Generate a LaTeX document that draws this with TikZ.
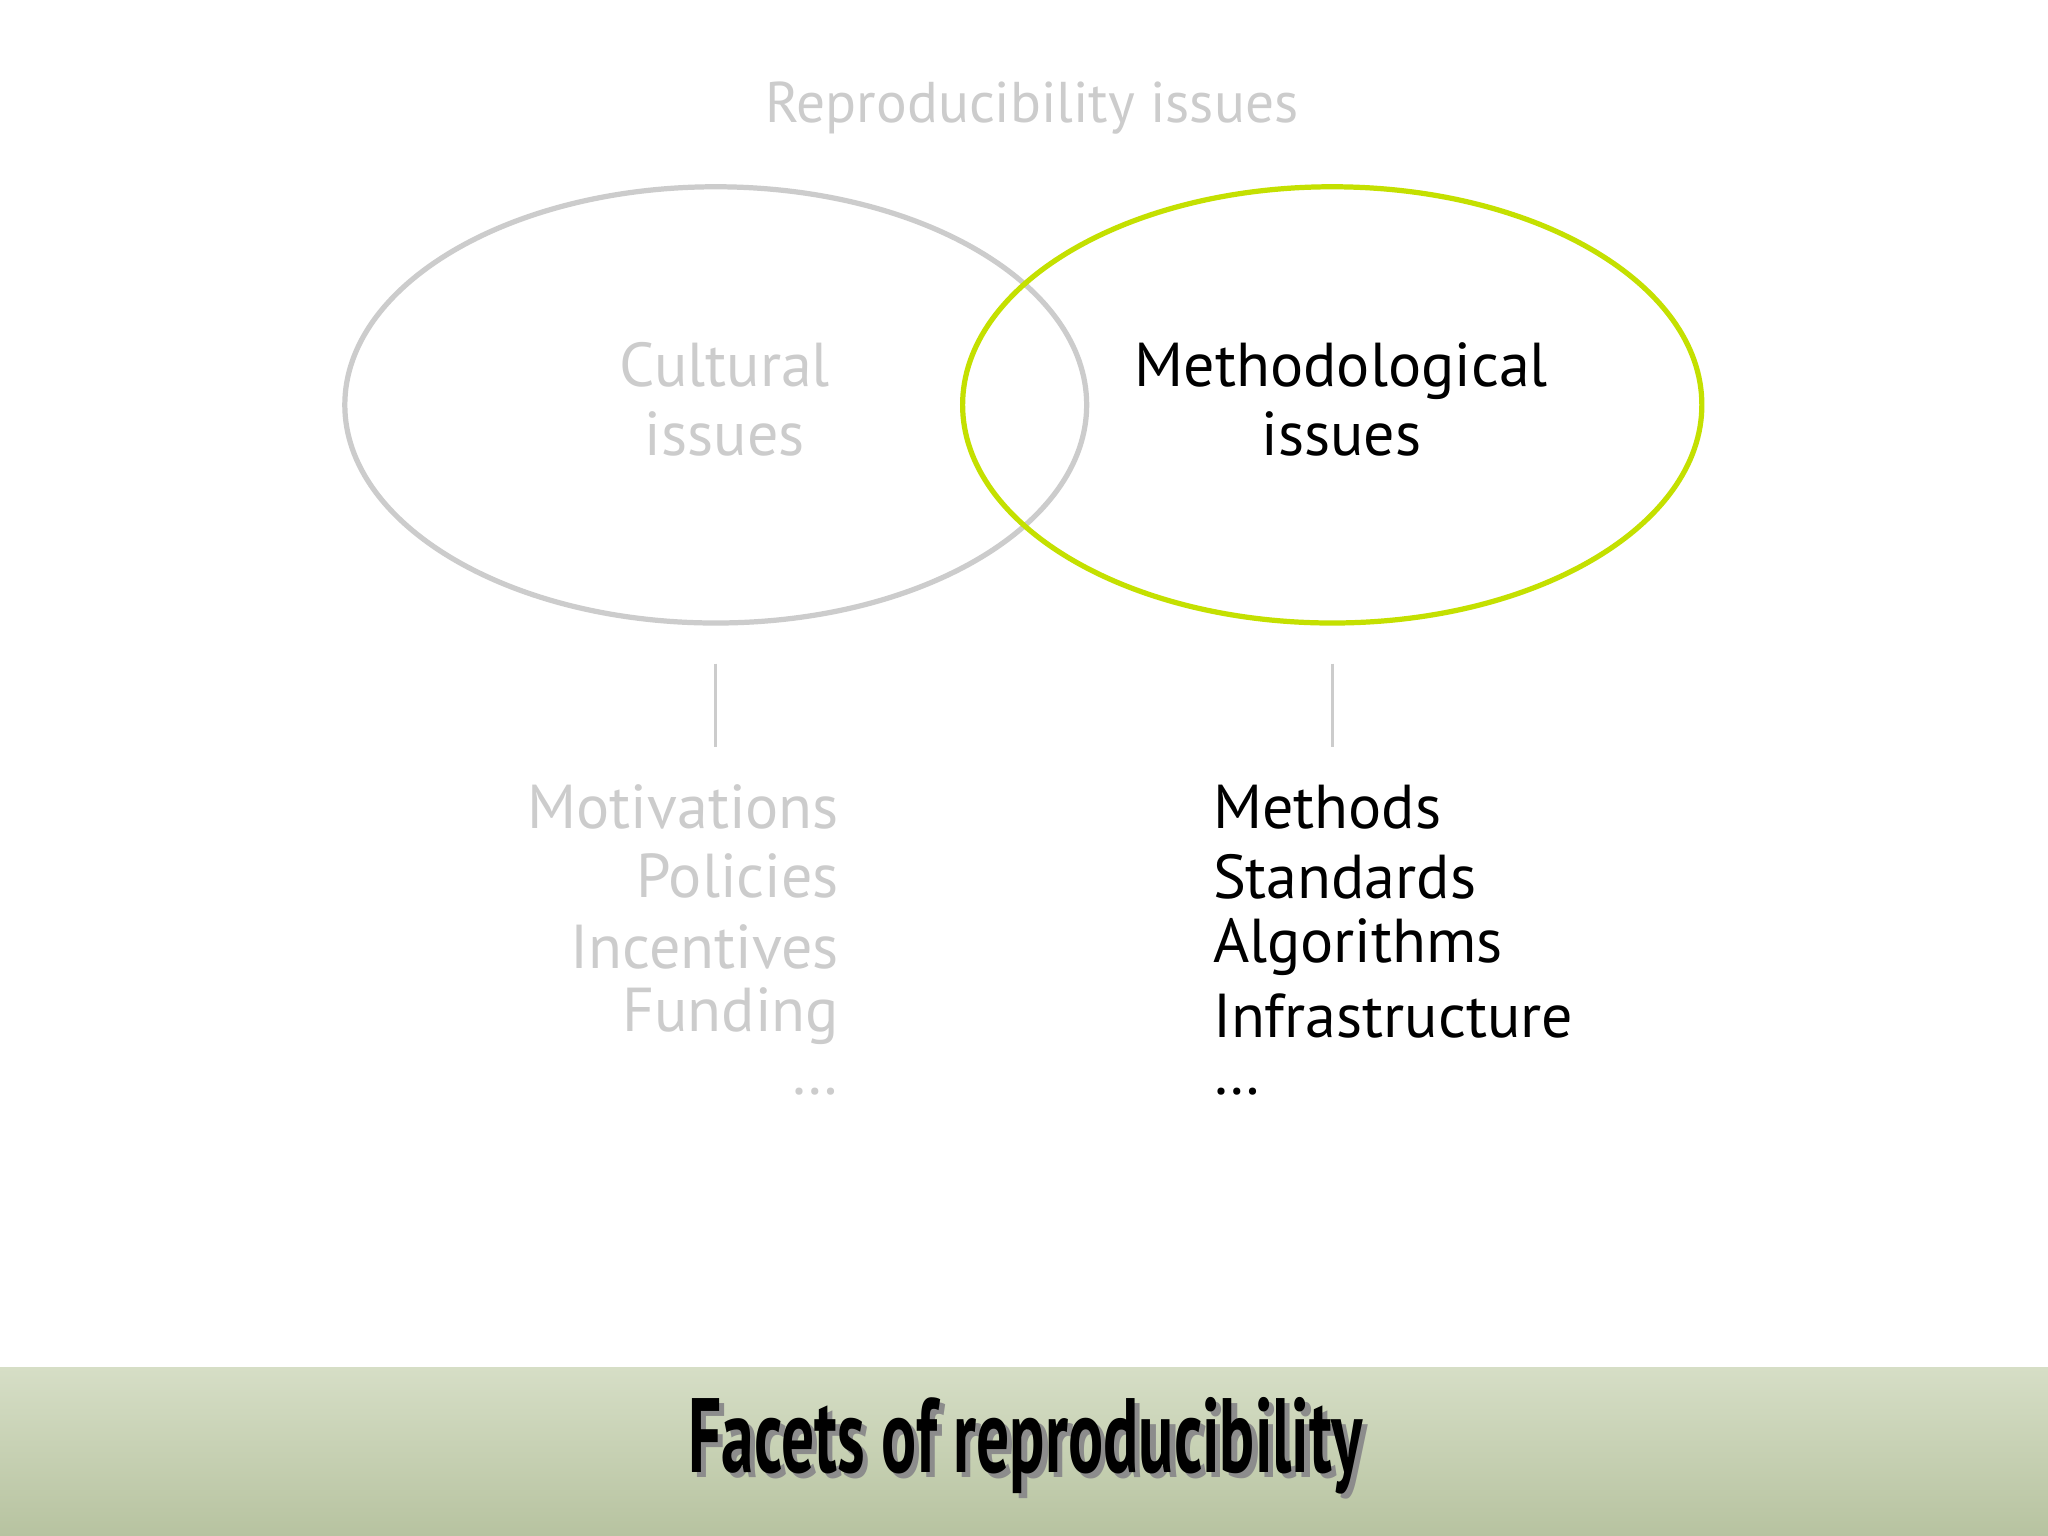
\documentclass[tikz,border=0pt]{standalone}
\usepackage{fontspec}
\usepackage{graphicx}
\setmainfont{PT Sans}
\definecolor{lg}{HTML}{CCCCCC}
\definecolor{lime}{HTML}{C4E000}
\definecolor{barA}{HTML}{D6DEC6}
\definecolor{barB}{HTML}{B7C3A0}
\begin{document}
\begin{tikzpicture}[x=0.01cm,y=-0.01cm,
  lbl/.style={font=\fontsize{13.5pt}{15pt}\selectfont,align=center,inner sep=0},
  item/.style={font=\fontsize{13.5pt}{15pt}\selectfont,inner sep=0}]
\useasboundingbox (0,0) rectangle (1568,1176);
\fill[white] (0,0) rectangle (1568,1176);
\shade[top color=barA,bottom color=barB] (0,1047) rectangle (1568,1176);
\node[font=\fontsize{12.5pt}{15pt}\selectfont,text=lg] (top) at (790,83) {Reproducibility issues};
\draw[lg,line width=0.04cm] (548,310) ellipse [x radius=284,y radius=167];
\draw[lime,line width=0.04cm] (1020,310) ellipse [x radius=283,y radius=167];
\node[lbl,text=lg] (cult) at (555,306) {Cultural\\issues};
\node[lbl] (meth) at (1027,306) {Methodological\\issues};
\coordinate (l1) at (548,508); \coordinate (l2) at (548,572);
\coordinate (r1) at (1020,508); \coordinate (r2) at (1020,572);
\draw[lg,line width=0.025cm] (l1) -- (l2);
\draw[lg,line width=0.025cm] (r1) -- (r2);
\foreach \t/\y [count=\i] in {Motivations/618,Policies/671,Incentives/725,Funding/778,\dots/836}
  \node[item,text=lg,anchor=east] (L\i) at (643,\y) {\t};
\foreach \t/\y [count=\i] in {Methods/618,Standards/671,Algorithms/725,Infrastructure/778,\dots/836}
  \node[item,anchor=west] (R\i) at (928,\y) {\t};
\node[font=\fontsize{23pt}{26pt}\selectfont\bfseries,text=black!45,inner sep=0] (sh) at (789,1111) {\scalebox{0.62}[1]{Facets of reproducibility}};
\node[font=\fontsize{23pt}{26pt}\selectfont\bfseries,inner sep=0] (title) at (785,1107) {\scalebox{0.62}[1]{Facets of reproducibility}};
\end{tikzpicture}
\end{document}
